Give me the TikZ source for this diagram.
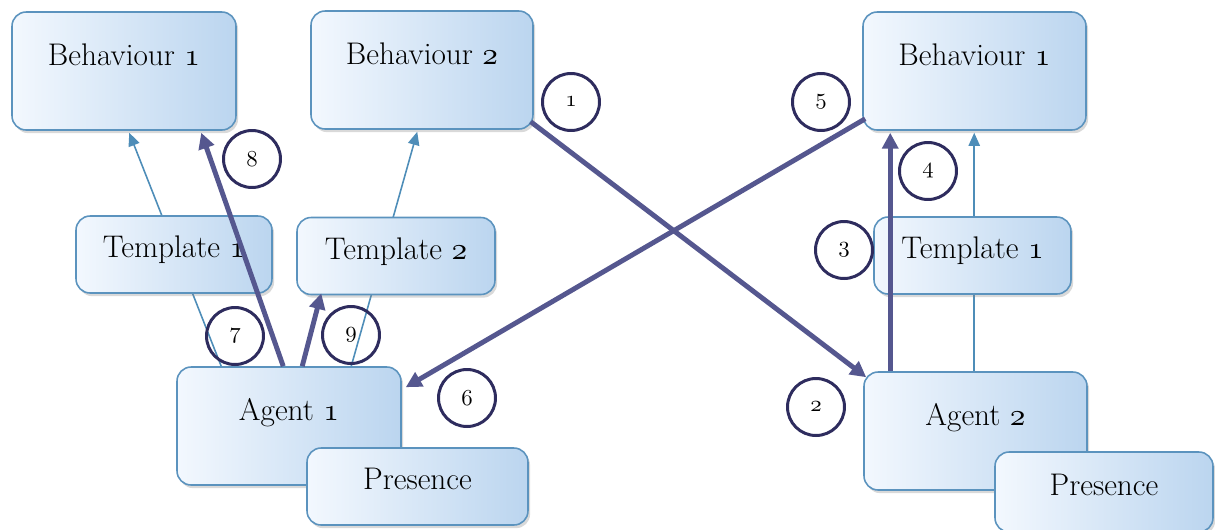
\documentclass[tikz,border=0pt]{standalone}
\usetikzlibrary{calc,shadows,arrows.meta}
\pgfdeclarelayer{bg}
\pgfsetlayers{bg,main}

% scalable math italic for the old-style figures
\DeclareFontShape{OML}{cmm}{m}{it}{<->cmmi10}{}

\definecolor{boxline}{HTML}{5B93BE}
\definecolor{boxlight}{HTML}{F3F8FE}
\definecolor{boxdark}{HTML}{BBD5EF}
\definecolor{thinline}{HTML}{4E8DB8}
\definecolor{thickline}{HTML}{55578F}
\definecolor{ringcol}{HTML}{2E2C5E}

% old-style figures as in the labels
\newcommand{\osn}[1]{$\mathnormal{#1}$}

\tikzset{
  box/.style={draw=boxline, line width=0.9pt, rounded corners=8pt,
    left color=boxlight, right color=boxdark,
    drop shadow={shadow xshift=1.2pt, shadow yshift=-1.8pt, opacity=0.3},
    font=\fontsize{17.8}{21}\selectfont, inner sep=0pt, text height=12.5pt},
  bigbox/.style={box, minimum height=2.36cm, text depth=19pt},
  smallbox/.style={box, minimum height=1.54cm, text depth=8.8pt},
  thinlink/.style={draw=thinline, line width=0.9pt,
    -{Triangle[length=7.5pt,width=6.5pt]}},
  thicklink/.style={draw=thickline, line width=2.8pt,
    -{Triangle[length=9pt,width=9pt]}},
  ring/.style={circle, draw=ringcol, line width=1.7pt, minimum size=1.14cm,
    inner sep=0pt, font=\fontsize{13}{15}\selectfont}
}

\begin{document}
\begin{tikzpicture}[x=0.02cm,y=-0.02cm]
\useasboundingbox (0,0) rectangle (1215,529);

% behaviours
\node[bigbox, minimum width=4.48cm] (b1) at (124,71) {Behaviour \osn{1}};
\node[bigbox, minimum width=4.44cm] (b2) at (422,70) {Behaviour \osn{2}};
\node[bigbox, minimum width=4.46cm] (b3) at (974.5,71) {Behaviour \osn{1}};

% templates
\node[smallbox, minimum width=3.92cm] (t1) at (174,254.5) {Template \osn{1}};
\node[smallbox, minimum width=3.96cm] (t2) at (396,256) {Template \osn{2}};
\node[smallbox, minimum width=3.94cm] (t3) at (972.5,255.5) {Template \osn{1}};

% agents with their presence
\node[bigbox, minimum width=4.48cm] (a1) at (289,426) {Agent \osn{1}};
\node[smallbox, minimum width=4.42cm] (p1) at (417.5,486.5) {Presence};
\node[bigbox, minimum width=4.46cm] (a2) at (975.5,431) {Agent \osn{2}};
\node[smallbox, minimum width=4.36cm, minimum height=1.6cm] (p2) at (1104,492) {Presence};

% thin links run behind the templates
\begin{pgfonlayer}{bg}
\draw[thinlink] ($(a1.north west)+(45,0)$) -- ($(b1.south west)+(118,2)$);
\draw[thinlink] ($(a1.north west)+(175,0)$) -- ($(b2.south west)+(107,2)$);
\draw[thinlink] ($(a2.north west)+(111,0)$) -- ($(b3.south west)+(112,2)$);
\end{pgfonlayer}

% thick links
\draw[thicklink] ($(a1.north west)+(107,0)$) -- ($(b1.south west)+(190,2)$);
\draw[thicklink] ($(a1.north west)+(126,0)$) -- ($(t2.south west)+(25,-2)$);
\draw[thicklink] ($(b2.south east)+(-3,-8)$) -- ($(a2.north west)+(3,6)$);
\draw[thicklink] ($(a2.north west)+(27,0)$) -- ($(b3.south west)+(28,2)$);
\draw[thicklink] ($(b3.south west)+(3,-12)$) -- ($(a1.north east)+(4,21)$);

% step numbers
\node[ring] (n1) at (571,102) {\osn{1}};
\node[ring] (n2) at (816,407) {\osn{2}};
\node[ring] (n3) at (844,250) {\osn{3}};
\node[ring] (n4) at (928,171) {\osn{4}};
\node[ring] (n5) at (821,102) {\osn{5}};
\node[ring] (n6) at (467,398) {\osn{6}};
\node[ring] (n7) at (235,336) {\osn{7}};
\node[ring] (n8) at (252,159) {\osn{8}};
\node[ring] (n9) at (351,335) {\osn{9}};
\end{tikzpicture}
\end{document}
